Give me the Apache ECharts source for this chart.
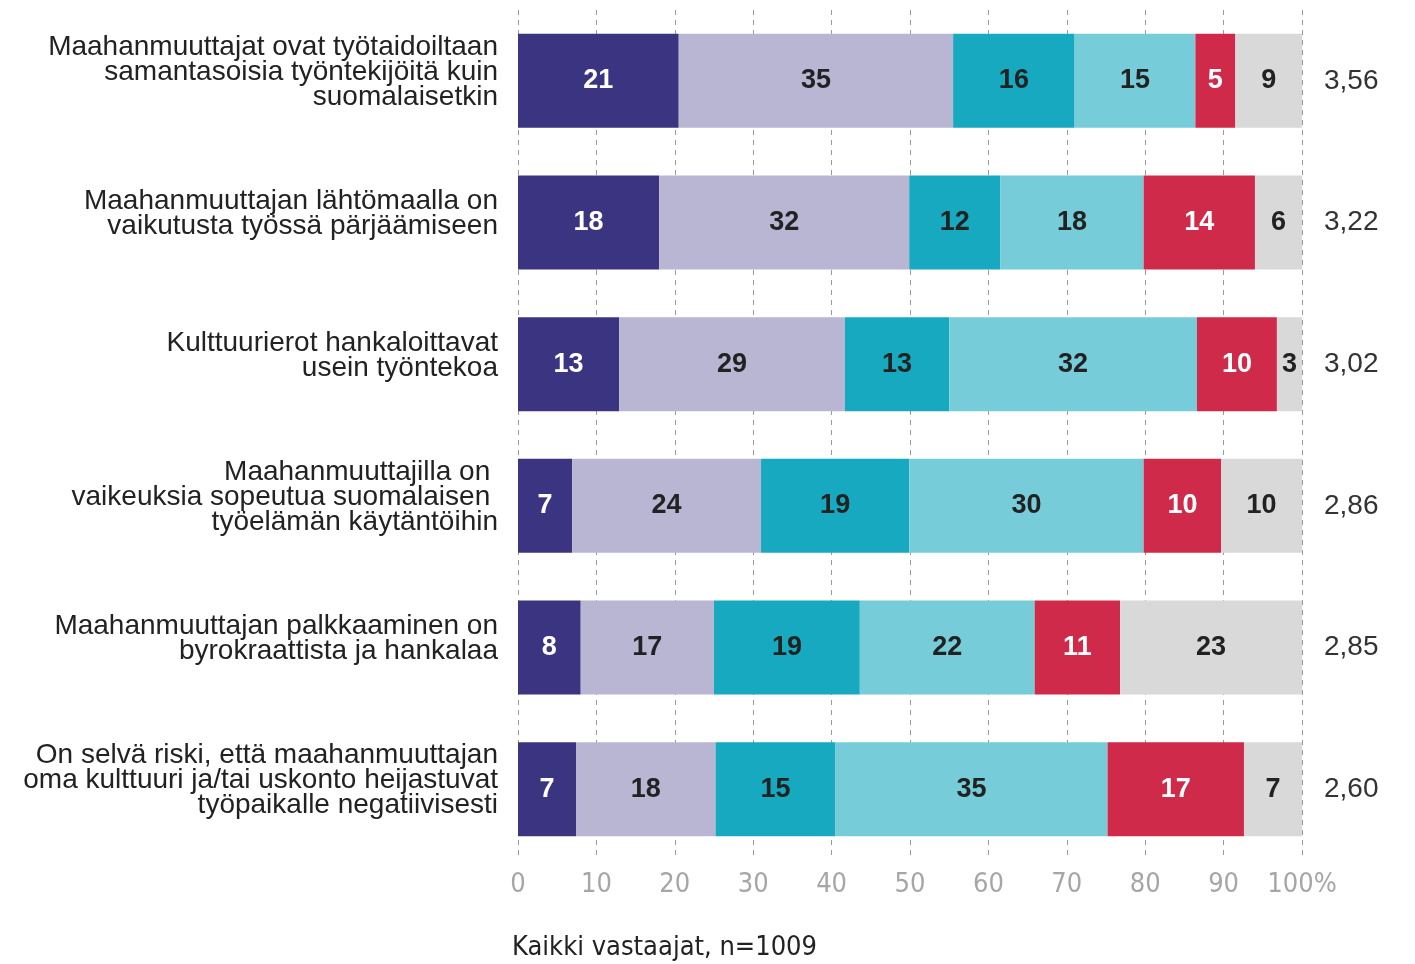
<!DOCTYPE html>
<html>
<head>
<meta charset="utf-8">
<script src="https://cdn.jsdelivr.net/npm/echarts@6/dist/echarts.min.js"></script>
<style>
  html, body { margin: 0; padding: 0; background: #fff; }
  #chart { width: 1415px; height: 964px; }
</style>
</head>
<body>
<div id="chart"></div>
<script>
const categories = [
  'Maahanmuuttajat ovat työtaidoiltaan\nsamantasoisia työntekijöitä kuin\nsuomalaisetkin',
  'Maahanmuuttajan lähtömaalla on\nvaikutusta työssä pärjäämiseen',
  'Kulttuurierot hankaloittavat\nusein työntekoa',
  'Maahanmuuttajilla on \nvaikeuksia sopeutua suomalaisen \ntyöelämän käytäntöihin',
  'Maahanmuuttajan palkkaaminen on\nbyrokraattista ja hankalaa',
  'On selvä riski, että maahanmuuttajan\noma kulttuuri ja/tai uskonto heijastuvat\ntyöpaikalle negatiivisesti'
]
const means = ['3,56', '3,22', '3,02', '2,86', '2,85', '2,60']

// segment widths (labels are rounded)
const s1 = [20.5, 18.0, 12.9, 6.9, 8.0, 7.4]
const s2 = [35.0, 31.9, 28.8, 24.1, 17.0, 17.8]
const s3 = [15.5, 11.6, 13.3, 18.9, 18.6, 15.3]
const s4 = [15.4, 18.3, 31.6, 29.9, 22.3, 34.7]
const s5 = [5.1, 14.2, 10.2, 9.9, 10.9, 17.4]
const s6 = [8.5, 6.0, 3.2, 10.3, 23.2, 7.4]

const xTicks = ['0', '10', '20', '30', '40', '50', '60', '70', '80', '90', '100%']

const colors = ['#3b3480', '#b9b6d4', '#17a9bf', '#76ccd8', '#d02a4b', '#d9d9d9']
const labelColors = ['#fff', '#222', '#222', '#222', '#fff', '#222']

const chart = echarts.init(document.getElementById('chart'), null, { renderer: 'canvas' })

const series = [s1, s2, s3, s4, s5, s6].map((data, i) => ({
  type: 'bar',
  stack: 'all',
  data,
  barWidth: 94,
  itemStyle: { color: colors[i] },
  label: {
    show: true,
    position: 'inside',
    color: labelColors[i],
    fontFamily: 'Liberation Sans, Arial, sans-serif',
    fontWeight: 'bold',
    fontSize: 27,
    formatter: p => Math.round(p.value)
  },
  emphasis: { disabled: true }
}))

chart.setOption({
  animation: false,
  backgroundColor: '#fff',
  grid: { left: 518, right: 113, top: 10, bottom: 104 },
  xAxis: {
    type: 'value',
    min: 0, max: 100, interval: 10,
    axisLine: { show: false },
    axisTick: { show: false },
    axisLabel: {
      color: '#a6a6a6',
      fontFamily: 'Liberation Sans Narrow, DejaVu Sans Condensed, sans-serif',
      fontSize: 27,
      margin: 11,
      formatter: v => xTicks[Math.round(v / 10)]
    },
    splitLine: { show: true, lineStyle: { color: '#9a9a9a', type: [5, 5], width: 1 } }
  },
  yAxis: [
    {
      type: 'category', data: categories, inverse: true,
      axisLine: { show: false },
      axisTick: { show: false },
      axisLabel: {
        color: '#222',
        fontFamily: 'Liberation Sans, Arial, sans-serif',
        fontSize: 28,
        lineHeight: 25,
        margin: 20,
        align: 'right',
        // empty last line lifts the block a little, as in the original
        formatter: v => v + '\n{gap|}',
        rich: { gap: { lineHeight: 17, fontSize: 1 } }
      }
    },
    {
      type: 'category', data: means, inverse: true, position: 'right',
      axisLine: { show: false },
      axisTick: { show: false },
      axisLabel: {
        color: '#333',
        fontFamily: 'Liberation Sans, Arial, sans-serif',
        fontSize: 28,
        margin: 22
      }
    }
  ],
  series,
  graphic: [{
    type: 'text', left: 512, top: 934,
    style: {
      text: 'Kaikki vastaajat, n=1009',
      fill: '#222',
      font: '27px "Liberation Sans Narrow", "DejaVu Sans Condensed", sans-serif'
    }
  }]
})
</script>
</body>
</html>
